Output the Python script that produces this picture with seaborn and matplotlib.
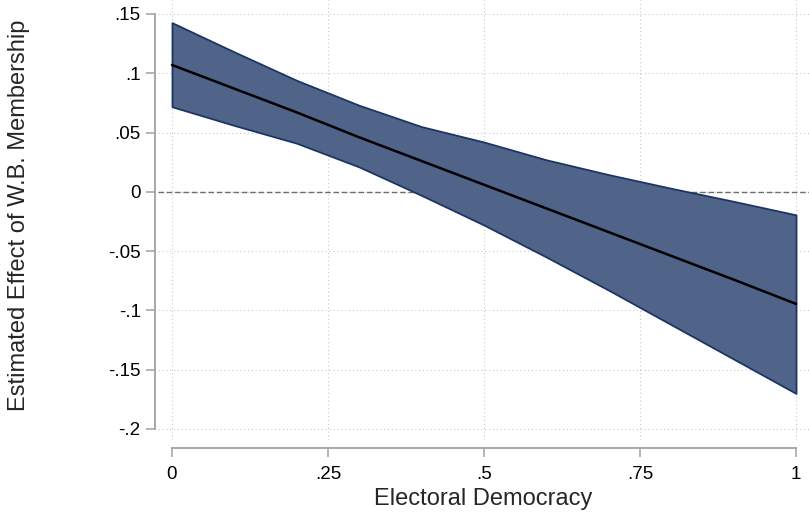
import numpy as np
import pandas as pd
import matplotlib.pyplot as plt
import seaborn as sns

# values
democracy = [0, .1, .2, .3, .4, .5, .6, .7, .8, .9, 1]
effect = [.107, .087, .067, .046, .026, .006, -.014, -.034, -.054, -.074, -.0945]
upper = [.1427, .118, .094, .073, .055, .042, .027, .0145, .003, -.008, -.0194]
lower = [.0718, .056, .041, .021, -.003, -.028, -.055, -.083, -.112, -.141, -.170]

x_ticks = [0, .25, .5, .75, 1]
x_labels = ["0", ".25", ".5", ".75", "1"]
y_ticks = [.15, .1, .05, 0, -.05, -.1, -.15, -.2]
y_labels = [".15", ".1", ".05", "0", "-.05", "-.1", "-.15", "-.2"]

df = pd.DataFrame({"democracy": democracy, "effect": effect})

sns.set_style("white")
plt.rcParams['font.family'] = ['Liberation Sans', 'DejaVu Sans']

fig = plt.figure(figsize=(8.09, 5.17), dpi=100)
ax = fig.add_axes([158 / 809, 77 / 517, 651 / 809, 440 / 517])

ax.axhline(0, color="#6e6e6e", linestyle=(0, (4, 2)), linewidth=1, zorder=1)
ax.fill_between(democracy, lower, upper, facecolor="#506389",
                edgecolor="#1c3564", linewidth=1.3, zorder=2)
sns.lineplot(data=df, x="democracy", y="effect", color="black", linewidth=1.8, ax=ax, zorder=3)

ax.set_xlim(-0.0224, 1.0208)
ax.set_ylim(-0.2093, 0.1618)
ax.set_xticks(x_ticks, x_labels)
ax.set_yticks(y_ticks, y_labels)

ax.grid(True, linestyle=(0, (1, 2.5)), color="#c8c8c8", linewidth=0.8)
ax.set_axisbelow(True)

sns.despine(ax=ax)
ax.spines["left"].set_position(("outward", 2))
ax.spines["left"].set_bounds(-0.2, 0.15)
ax.spines["bottom"].set_position(("outward", 6))
ax.spines["bottom"].set_bounds(0, 1)
for s in ["left", "bottom"]:
    ax.spines[s].set_color("#a0a0a0")
    ax.spines[s].set_linewidth(1.3)

ax.tick_params(axis="both", bottom=True, left=True, length=6.5, width=1.1,
               color="#a0a0a0", labelsize=13.5, labelcolor="black")
ax.tick_params(axis="x", pad=6)
ax.tick_params(axis="y", pad=4)

ax.set_xlabel("Electoral Democracy", fontsize=17, va="top")
ax.xaxis.set_label_coords(0.5, -0.11)
ax.set_ylabel("Estimated Effect of W.B. Membership", fontsize=17)
ax.yaxis.set_label_coords(-0.197, 0.51)

fig.savefig("out.png", dpi=100)
